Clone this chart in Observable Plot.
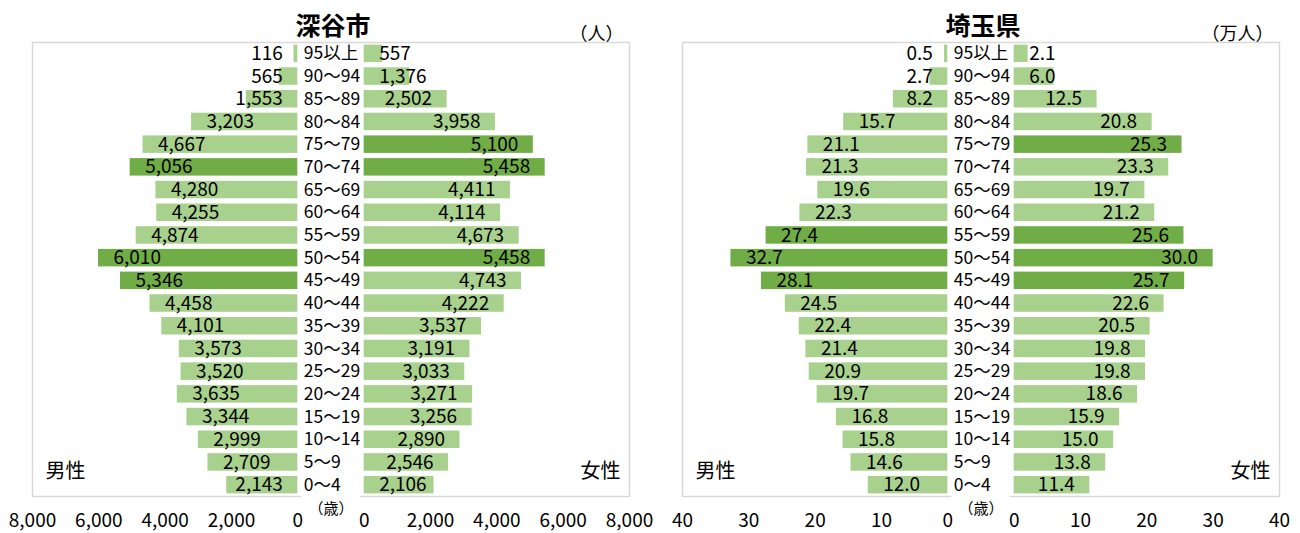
<!DOCTYPE html>
<html><head><meta charset="utf-8">
<script src="https://cdn.jsdelivr.net/npm/d3@7"></script>
<script src="https://cdn.jsdelivr.net/npm/@observablehq/plot@0.6"></script>
<style>
body{margin:0;background:#fff;}
#wrap{display:flex;width:1300px;height:533px;}
#wrap svg{overflow:visible;}
</style></head><body><div id="wrap"></div>
<script>
const ages = ["95以上","90～94","85～89","80～84","75～79","70～74","65～69","60～64","55～59","50～54","45～49","40～44","35～39","30～34","25～29","20～24","15～19","10～14","5～9","0～4"];

const fukayaMale   = [116, 565, 1553, 3203, 4667, 5056, 4280, 4255, 4874, 6010, 5346, 4458, 4101, 3573, 3520, 3635, 3344, 2999, 2709, 2143];
const fukayaFemale = [557, 1376, 2502, 3958, 5100, 5458, 4411, 4114, 4673, 5458, 4743, 4222, 3537, 3191, 3033, 3271, 3256, 2890, 2546, 2106];
const fukayaMaleHi   = ["70～74","50～54","45～49"];
const fukayaFemaleHi = ["75～79","70～74","50～54"];
const fukayaTicks = [0, 2000, 4000, 6000, 8000];

const saitamaMale   = [0.5, 2.7, 8.2, 15.7, 21.1, 21.3, 19.6, 22.3, 27.4, 32.7, 28.1, 24.5, 22.4, 21.4, 20.9, 19.7, 16.8, 15.8, 14.6, 12.0];
const saitamaFemale = [2.1, 6.0, 12.5, 20.8, 25.3, 23.3, 19.7, 21.2, 25.6, 30.0, 25.7, 22.6, 20.5, 19.8, 19.8, 18.6, 15.9, 15.0, 13.8, 11.4];
const saitamaMaleHi   = ["55～59","50～54","45～49"];
const saitamaFemaleHi = ["75～79","55～59","50～54","45～49"];
const saitamaTicks = [0, 10, 20, 30, 40];

const LIGHT = "#a9d18e", DARK = "#70ad47", GRID = "#d9d9d9";

function pyramid({title, unit, male, female, maleHi, femaleHi, ticks, gap, fmt}) {
  const W = 650, H = 533, mt = 42, mb = 37, ml = 32, mr = 21;
  const max = ticks[ticks.length - 1] + gap;
  const pxPerUnit = (W - ml - mr) / (2 * max);
  const fs = 19;
  const textW = s => [...s].reduce((a, c) => a + (/[0-9]/.test(c) ? 0.55 : 0.3) * fs, 0);
  const rows = [];
  ages.forEach((age, i) => {
    rows.push({age, sex: "m", v: male[i], hi: maleHi.includes(age)});
    rows.push({age, sex: "f", v: female[i], hi: femaleHi.includes(age)});
  });
  rows.forEach(d => {
    d.label = fmt(d.v);
    d.clamp = d.v * pxPerUnit < textW(d.label) + 30;
    d.x1 = d.sex === "m" ? -gap : gap;
    d.x2 = d.sex === "m" ? -(gap + d.v) : gap + d.v;
    d.fill = d.hi ? DARK : LIGHT;
  });
  const tickVals = [...ticks.map(t => -(t + gap)), ...ticks.map(t => t + gap)];
  const tickFormat = d => d3.format(",")(Math.round((Math.abs(d) - gap) * 1000) / 1000);
  const M = rows.filter(d => d.sex === "m"), F = rows.filter(d => d.sex === "f");
  const ageRows = ages.map(a => ({age: a}));
  // band layout: 20 rows fill the frame exactly, bar thickness ~77% of a row
  const pad = 0.23, plotH = H - mt - mb;
  const step = plotH / ages.length, ext = step * pad / 2;
  return Plot.plot({
    width: W, height: H,
    marginTop: mt, marginBottom: mb, marginLeft: ml, marginRight: mr,
    style: {fontFamily: "'Noto Sans CJK JP', 'Noto Sans', sans-serif", color: "#000", overflow: "visible"},
    x: {domain: [-max, max], axis: null},
    y: {domain: ages, axis: null, padding: pad, round: false, range: [mt - ext, H - mb + ext]},
    color: {type: "identity"},
    marks: [
      Plot.gridX(tickVals, {stroke: GRID, strokeOpacity: 1, strokeWidth: 1.5, y1: mt, y2: H - mb}),
      Plot.frame({stroke: GRID, strokeWidth: 1.5}),
      Plot.rect([0], {x1: -gap, x2: gap, fill: "#fff", insetLeft: 4, insetRight: 4, insetTop: 2, insetBottom: -2}),
      Plot.barX(rows, {x1: "x1", x2: "x2", y: "age", fill: "fill"}),
      Plot.text(M.filter(d => !d.clamp), {x: "x2", y: "age", text: "label", textAnchor: "start", dx: 15, fontSize: fs}),
      Plot.text(M.filter(d => d.clamp), {x: "x1", y: "age", text: "label", textAnchor: "end", dx: -15, fontSize: fs}),
      Plot.text(F.filter(d => !d.clamp), {x: "x2", y: "age", text: "label", textAnchor: "end", dx: -15, fontSize: fs}),
      Plot.text(F.filter(d => d.clamp), {x: "x1", y: "age", text: "label", textAnchor: "start", dx: 15, fontSize: fs}),
      Plot.text(ageRows, {x: () => -gap, y: "age", text: "age", textAnchor: "start", dx: 6, fontSize: 17.5}),
      Plot.axisX(tickVals, {anchor: "bottom", tickSize: 0, tickPadding: 17, tickFormat, fontSize: 19}),
      Plot.text([title], {frameAnchor: "top", dx: 2, dy: -25, fontSize: 25, fontWeight: "bold"}),
      Plot.text([unit], {frameAnchor: "top-right", textAnchor: "end", dx: -6, dy: -15, fontSize: 18}),
      Plot.text(["男性"], {frameAnchor: "bottom-left", textAnchor: "start", dx: 13, dy: -19, fontSize: 20}),
      Plot.text(["女性"], {frameAnchor: "bottom-right", textAnchor: "end", dx: -9, dy: -19, fontSize: 20}),
      Plot.text(["（歳）"], {frameAnchor: "bottom", dy: 17, fontSize: 15})
    ]
  });
}

const wrap = document.getElementById("wrap");
wrap.appendChild(pyramid({
  title: "深谷市", unit: "（人）", male: fukayaMale, female: fukayaFemale,
  maleHi: fukayaMaleHi, femaleHi: fukayaFemaleHi, ticks: fukayaTicks, gap: 1000,
  fmt: d3.format(",")
}));
wrap.appendChild(pyramid({
  title: "埼玉県", unit: "（万人）", male: saitamaMale, female: saitamaFemale,
  maleHi: saitamaMaleHi, femaleHi: saitamaFemaleHi, ticks: saitamaTicks, gap: 5,
  fmt: d3.format(".1f")
}));
</script></body></html>
